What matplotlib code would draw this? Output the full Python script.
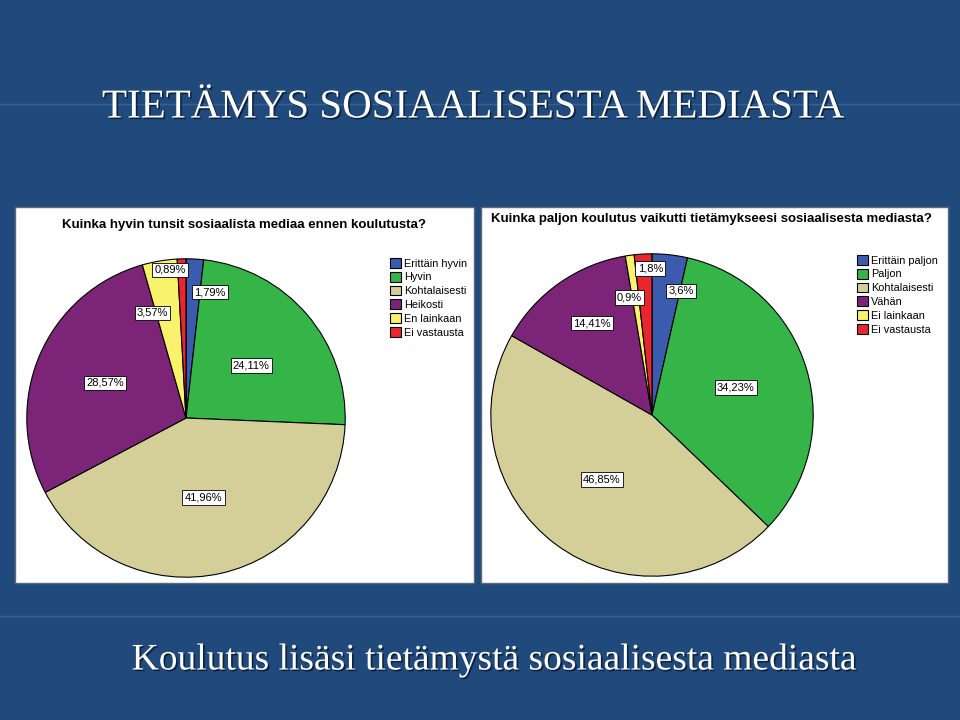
import matplotlib
matplotlib.use("Agg")
import matplotlib.pyplot as plt
import matplotlib.patheffects as pe
from matplotlib.patches import Rectangle

# data
left_title = "Kuinka hyvin tunsit sosiaalista mediaa ennen koulutusta?"
left_labels = ["Erittäin hyvin", "Hyvin", "Kohtalaisesti", "Heikosti", "En lainkaan", "Ei vastausta"]
left_values = [1.79, 24.11, 41.96, 28.57, 3.57, 0.89]

right_title = "Kuinka paljon koulutus vaikutti tietämykseesi sosiaalisesta mediasta?"
right_labels = ["Erittäin paljon", "Paljon", "Kohtalaisesti", "Vähän", "Ei lainkaan", "Ei vastausta"]
right_values = [3.6, 34.23, 46.85, 14.41, 0.9, 1.8]

slide_title = "TIETÄMYS SOSIAALISESTA MEDIASTA"
slide_note = "Koulutus lisäsi tietämystä sosiaalisesta mediasta"

colors = ["#3B5BAF", "#35B547", "#D4CF98", "#7B2478", "#F8F36A", "#E8262D"]
bg = "#214A7C"

W, H = 960, 720
fig = plt.figure(figsize=(9.6, 7.2), dpi=100, facecolor=bg)

def fx(px):
    return px / W

def fy(py):
    return 1 - py / H

# faint divider lines on the slide
for yy in (104, 616):
    fig.add_artist(plt.Line2D([0, 1], [fy(yy), fy(yy)], color="#3A6096", lw=1, zorder=-2))

shadow = [pe.withSimplePatchShadow(offset=(1.2, -1.2), shadow_rgbFace="#0C1E3A", alpha=0.9)]
fig.text(fx(473), fy(108), slide_title, color="white", fontsize=29.5,
         family="Liberation Serif", ha="center", va="center", path_effects=shadow)
fig.text(fx(494), fy(660), slide_note, color="white", fontsize=27,
         family="Liberation Serif", ha="center", va="center", path_effects=shadow)


def pct(v):
    return f"{v:g}".replace(".", ",") + "%"


def panel(box, title, title_xy, labels, values, center, radius, label_pos, legend_xy):
    x0, y0, x1, y1 = box
    fig.add_artist(Rectangle((fx(x0), fy(y1)), fx(x1 - x0), (y1 - y0) / H,
                             facecolor="white", edgecolor="#5A6B80", lw=1,
                             transform=fig.transFigure, zorder=-1))
    fig.text(fx(title_xy[0]), fy(title_xy[1]), title, fontsize=9.5, fontweight="bold",
             family="Liberation Sans", ha="center", va="center")

    cx, cy = center
    ax = fig.add_axes([fx(cx - radius), fy(cy + radius), 2 * radius / W, 2 * radius / H])
    wedges, _ = ax.pie(values, colors=colors, startangle=90, counterclock=False,
                       wedgeprops=dict(edgecolor="black", linewidth=0.8))
    ax.set_xlim(-1.005, 1.005)
    ax.set_ylim(-1.005, 1.005)
    ax.set_aspect("equal")
    ax.axis("off")

    for v, (lx, ly) in zip(values, label_pos):
        ax.text(lx, ly, pct(v), fontsize=8, family="Liberation Sans",
                ha="center", va="center",
                bbox=dict(boxstyle="square,pad=0.2", facecolor="white",
                          edgecolor="black", linewidth=0.6))

    fig.legend(wedges, labels, loc="upper left",
               bbox_to_anchor=(fx(legend_xy[0]), fy(legend_xy[1])),
               frameon=False, handlelength=1.0, handleheight=1.0,
               handletextpad=0.3, labelspacing=0.3, borderpad=0, borderaxespad=0,
               prop=dict(family="Liberation Sans", size=7.8))


panel((15, 207, 474, 583), left_title, (244, 225), left_labels, left_values,
      (186, 418), 160,
      [(0.15, 0.79), (0.41, 0.33), (0.11, -0.50), (-0.51, 0.22), (-0.21, 0.66), (-0.10, 0.93)],
      (390, 258))

panel((481, 207, 948, 583), right_title, (711, 219), right_labels, right_values,
      (652, 415), 162,
      [(0.18, 0.77), (0.52, 0.17), (-0.31, -0.40), (-0.37, 0.57), (-0.14, 0.73), (-0.01, 0.91)],
      (857, 255))

fig.savefig("out.png", dpi=100, facecolor=bg)
